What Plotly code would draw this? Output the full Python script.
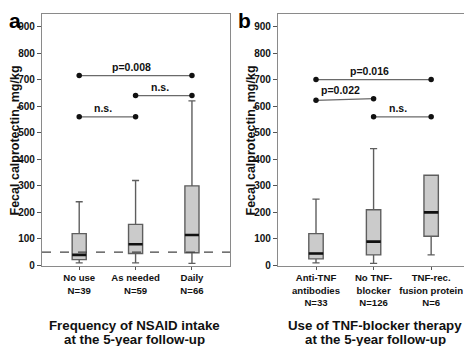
import plotly.graph_objects as go

# ---------------- data ----------------
cats_a = ["No use<br>N=39", "As needed<br>N=59", "Daily<br>N=66"]
low_a = [10, 10, 8]
q1_a = [22, 45, 48]
med_a = [40, 80, 115]
q3_a = [120, 155, 300]
high_a = [240, 320, 620]
cutoff_a = 50
# brackets: (from, to, y_left, y_right, label)
brackets_a = [(0, 2, 715, 715, "p=0.008"),
              (1, 2, 640, 640, "n.s."),
              (0, 1, 560, 560, "n.s.")]

cats_b = ["Anti-TNF<br>antibodies<br>N=33", "No TNF-<br>blocker<br>N=126",
          "TNF-rec.<br>fusion protein<br>N=6"]
low_b = [10, 8, 40]
q1_b = [25, 40, 110]
med_b = [45, 90, 200]
q3_b = [120, 210, 340]
high_b = [250, 440, 340]
brackets_b = [(0, 2, 700, 700, "p=0.016"),
              (0, 1, 622, 628, "p=0.022"),
              (1, 2, 560, 560, "n.s.")]

yticks = [0, 100, 200, 300, 400, 500, 600, 700, 800, 900]
ytitle = "Fecal calprotectin, mg/kg"
xtitle_a = ["Frequency of NSAID intake", "at the 5-year follow-up"]
xtitle_b = ["Use of TNF-blocker therapy", "at the 5-year follow-up"]

# ---------------- style ----------------
# the page body has an 8px margin, so the figure is 8px smaller and all
# layout positions (given in window pixels) are shifted by 8px
OFF = 8
W, H = 472 - OFF, 346 - OFF
FONT = "Liberation Sans, Arial, sans-serif"
BOXW = 0.25
fig = go.Figure()


def px_x(p):
    return (p - OFF) / W


def px_y(p):
    return 1 - (p - OFF) / H


panels = [
    dict(cats=cats_a, low=low_a, q1=q1_a, med=med_a, q3=q3_a, high=high_a,
         br=brackets_a, xa="x", ya="y", dom=(42, 230), rng=(-0.66, 2.675),
         xt=xtitle_a, xc=134, letter="a", lx=8),
    dict(cats=cats_b, low=low_b, q1=q1_b, med=med_b, q3=q3_b, high=high_b,
         br=brackets_b, xa="x2", ya="y2", dom=(278, 468), rng=(-0.66, 2.64),
         xt=xtitle_b, xc=375, letter="b", lx=237),
]

annotations = []
shapes = []
for i, p in enumerate(panels):
    pos = list(range(len(p["cats"])))
    fig.add_trace(go.Box(
        x=pos, q1=p["q1"], median=p["med"], q3=p["q3"],
        lowerfence=p["low"], upperfence=p["high"],
        width=BOXW, whiskerwidth=0.5,
        fillcolor="#cbcbcb", line=dict(color="#5e5e5e", width=1.4),
        boxpoints=False, hoverinfo="skip", showlegend=False,
        xaxis=p["xa"], yaxis=p["ya"]))
    # medians (thick black)
    mx, my = [], []
    for xpos, m in zip(pos, p["med"]):
        mx += [xpos - BOXW / 2, xpos + BOXW / 2, None]
        my += [m, m, None]
    fig.add_trace(go.Scatter(x=mx, y=my, mode="lines",
                             line=dict(color="#111111", width=2.6),
                             showlegend=False, hoverinfo="skip",
                             xaxis=p["xa"], yaxis=p["ya"]))
    # brackets
    for (a, b, ya_, yb_, lab) in p["br"]:
        fig.add_trace(go.Scatter(
            x=[a, b], y=[ya_, yb_], mode="lines+markers",
            line=dict(color="#6a6a6a", width=1.2),
            marker=dict(color="#111111", size=5.5),
            showlegend=False, hoverinfo="skip",
            xaxis=p["xa"], yaxis=p["ya"]))
        annotations.append(dict(
            x=(a + b) / 2 - 0.07, y=max(ya_, yb_), xref=p["xa"], yref=p["ya"],
            text=lab, showarrow=False, xanchor="center", yanchor="bottom",
            yshift=1,
            font=dict(family=FONT, size=10.5, color="#111", weight="bold")))
    # axes
    xk = "xaxis" if i == 0 else "xaxis2"
    yk = "yaxis" if i == 0 else "yaxis2"
    fig.layout[xk] = dict(
        domain=[px_x(p["dom"][0]), px_x(p["dom"][1])], range=list(p["rng"]),
        tickmode="array", tickvals=pos, ticktext=p["cats"],
        ticks="outside", ticklen=3, tickcolor="#555", tickwidth=1,
        showline=True, linecolor="#8a8a8a", linewidth=1.2, mirror=True,
        showgrid=False, zeroline=False, anchor=p["ya"], automargin=False,
        tickfont=dict(family=FONT, size=9.6, color="#111", weight="bold"))
    fig.layout[yk] = dict(
        domain=[px_y(265.5), px_y(14)], range=[0, 947],
        tickmode="array", tickvals=yticks,
        ticks="outside", ticklen=4, tickcolor="#555", tickwidth=1,
        showline=True, linecolor="#8a8a8a", linewidth=1.2, mirror=True,
        showgrid=False, zeroline=False, anchor=p["xa"], automargin=False,
        tickfont=dict(family=FONT, size=10, color="#111", weight="bold"))
    # y title
    annotations.append(dict(
        x=px_x(p["dom"][0] - 27.5), y=px_y(141), xref="paper", yref="paper",
        text=ytitle, textangle=-90, showarrow=False,
        xanchor="center", yanchor="middle",
        font=dict(family=FONT, size=12.5, color="#111", weight="bold")))
    # x title (two lines)
    for k, (line, yy) in enumerate(zip(p["xt"], [325, 339])):
        annotations.append(dict(
            x=px_x(p["xc"]), y=px_y(yy), xref="paper", yref="paper",
            text=line, showarrow=False, xanchor="center", yanchor="middle",
            font=dict(family=FONT, size=13.3, color="#111", weight="bold")))
    # panel letter
    annotations.append(dict(
        x=px_x(p["lx"]), y=px_y(OFF), xref="paper", yref="paper",
        text=p["letter"], showarrow=False, xanchor="left", yanchor="top",
        borderpad=0,
        font=dict(family=FONT, size=21, color="#000", weight="bold")))

shapes.append(dict(type="line", xref="x domain", yref="y", x0=0, x1=1,
                   y0=cutoff_a, y1=cutoff_a,
                   line=dict(color="#444", width=1.2, dash="dash")))

fig.update_layout(width=W, height=H, autosize=False,
                  margin=dict(l=0, r=0, t=0, b=0),
                  paper_bgcolor="white", plot_bgcolor="white",
                  annotations=annotations, shapes=shapes,
                  boxmode="overlay")
fig.write_html("out.html")
